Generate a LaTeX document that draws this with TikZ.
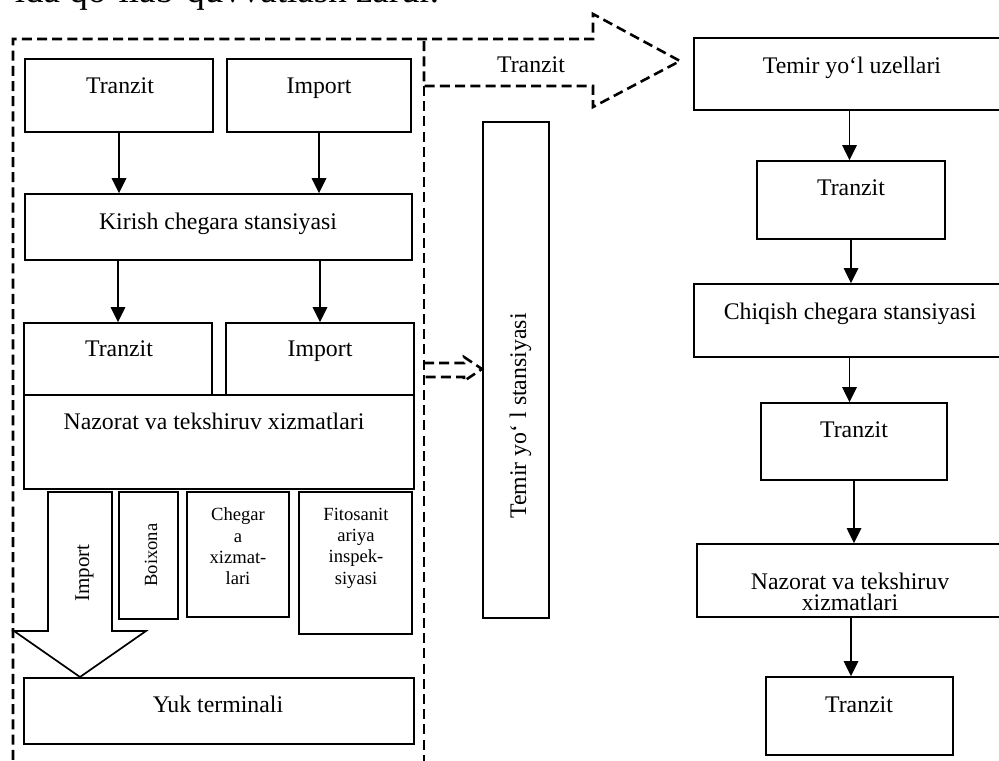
\documentclass[tikz,border=0pt]{standalone}
\usepackage{fontspec}
\setmainfont{Liberation Serif}
\usetikzlibrary{arrows.meta, positioning, calc, fit}
\tikzset{
  every picture/.style={line width=0.85pt},
  box/.style={draw, inner sep=0pt, fit={#1}},
  arrow/.style={-{Triangle[length=7.5pt, width=7.2pt]}},
  frame/.style={line width=1.3pt, dash pattern=on 5pt off 2.6pt},
  txt/.style={font=\fontsize{11.9}{10.5}\selectfont, align=center, inner sep=0pt},
  midtxt/.style={font=\fontsize{10.5}{12}\selectfont, inner sep=0pt},
  smalltxt/.style={font=\fontsize{9.3}{10.7}\selectfont, align=center, inner sep=0pt},
  headline/.style={font=\fontsize{18.5}{20}\selectfont, inner sep=0pt},
}
\begin{document}
\begin{tikzpicture}[x=0.5pt, y=-0.5pt]
  \useasboundingbox (0,0) rectangle (999,760);
  % line of text cut off above the figure
  \node[headline, anchor=base east] (head) at (440,3) {ida qo‘llab-quvvatlash zarur.};

  % dashed frame and transit arrows
  \draw[frame] (13,775) -- (13,39) -- (593,39) -- (593,14) -- (680,61) -- (593,107) -- (593,86) -- (424,86) -- (424,39);
  \draw[frame] (424,86) -- (424,775);
  \draw[frame] (424,363) -- (464,363) -- (464,357) -- (482,369) -- (464,381) -- (464,377) -- (424,377);
  \node[txt, anchor=base] (tarr-t) at (531,72) {Tranzit};

  % left block
  \node[box={(25,59) (213,132)}] (tr1) {};
  \node[box={(227,59) (411,132)}] (imp1) {};
  \node[box={(25,194) (412,260)}] (kir) {};
  \node[box={(24,323) (212,395)}] (tr2) {};
  \node[box={(226,323) (414,395)}] (imp2) {};
  \node[box={(24,395) (414,489)}] (nz1) {};
  \node[box={(119,492) (178,619)}] (bx) {};
  \node[box={(187,492) (289,617)}] (chg) {};
  \node[box={(299,492) (412,634)}] (fito) {};
  \node[box={(24,678) (414,744)}] (yuk) {};
  \node[txt, anchor=base] (tr1-t) at (120,93) {Tranzit};
  \node[txt, anchor=base] (imp1-t) at (319,93) {Import};
  \node[txt, anchor=base] (kir-t) at (218,229) {Kirish chegara stansiyasi};
  \node[txt, anchor=base] (tr2-t) at (119,356) {Tranzit};
  \node[txt, anchor=base] (imp2-t) at (320,356) {Import};
  \node[txt, anchor=base] (nz1-t) at (214,429) {Nazorat va tekshiruv xizmatlari};
  \node[smalltxt, rotate=90, anchor=base] (bx-t) at (157,555) {Boixona};
  \node[smalltxt, anchor=north] (chg-t) at (238,507) {Chegar\\a\\xizmat-\\lari};
  \node[smalltxt, anchor=north] (fito-t) at (356,507) {Fitosanit\\ariya\\inspek-\\siyasi};
  \node[txt, anchor=base] (yuk-t) at (218,712) {Yuk terminali};
  \draw (48,492) -- (112,492) -- (112,631) -- (146,631) -- (80,677) -- (14,631) -- (48,631) -- cycle;
  \node[midtxt, rotate=90, anchor=base] (imp-t) at (89,573) {Import};
  \foreach \a/\b in {tr1/kir, imp1/kir} \draw[arrow] (\a.south) -- (\a.south |- \b.north);
  \foreach \a/\b in {kir/tr2, kir/imp2} \draw[arrow] (\b.north |- \a.south) -- (\b.north);

  % railway station
  \node[box={(483,122) (549,618)}] (st) {};
  \node[txt, rotate=90, anchor=base] (st-t) at (526,416) {Temir yo‘ l stansiyasi};

  % right column
  \node[box={(694,38) (1005,110)}] (uz) {};
  \node[box={(757,161) (945,239)}] (rt1) {};
  \node[box={(694,284) (1005,357)}] (chq) {};
  \node[box={(761,403) (947,480)}] (rt2) {};
  \node[box={(697,544) (1005,617)}] (nz2) {};
  \node[box={(766,677) (953,755)}] (rt3) {};
  \node[txt, anchor=base] (uz-t) at (852,73) {Temir yo‘l uzellari};
  \node[txt, anchor=base] (rt1-t) at (851,195) {Tranzit};
  \node[txt, anchor=base] (chq-t) at (850,319) {Chiqish chegara stansiyasi};
  \node[txt, anchor=base] (rt2-t) at (854,437) {Tranzit};
  \node[txt, anchor=north] (nz2-t) at (850,572) {Nazorat va tekshiruv\\xizmatlari};
  \node[txt, anchor=base] (rt3-t) at (859,712) {Tranzit};
  \foreach \a/\b in {uz/rt1, rt1/chq, chq/rt2, rt2/nz2, nz2/rt3} \draw[arrow] (\a.south) -- (\a.south |- \b.north);
\end{tikzpicture}
\end{document}
